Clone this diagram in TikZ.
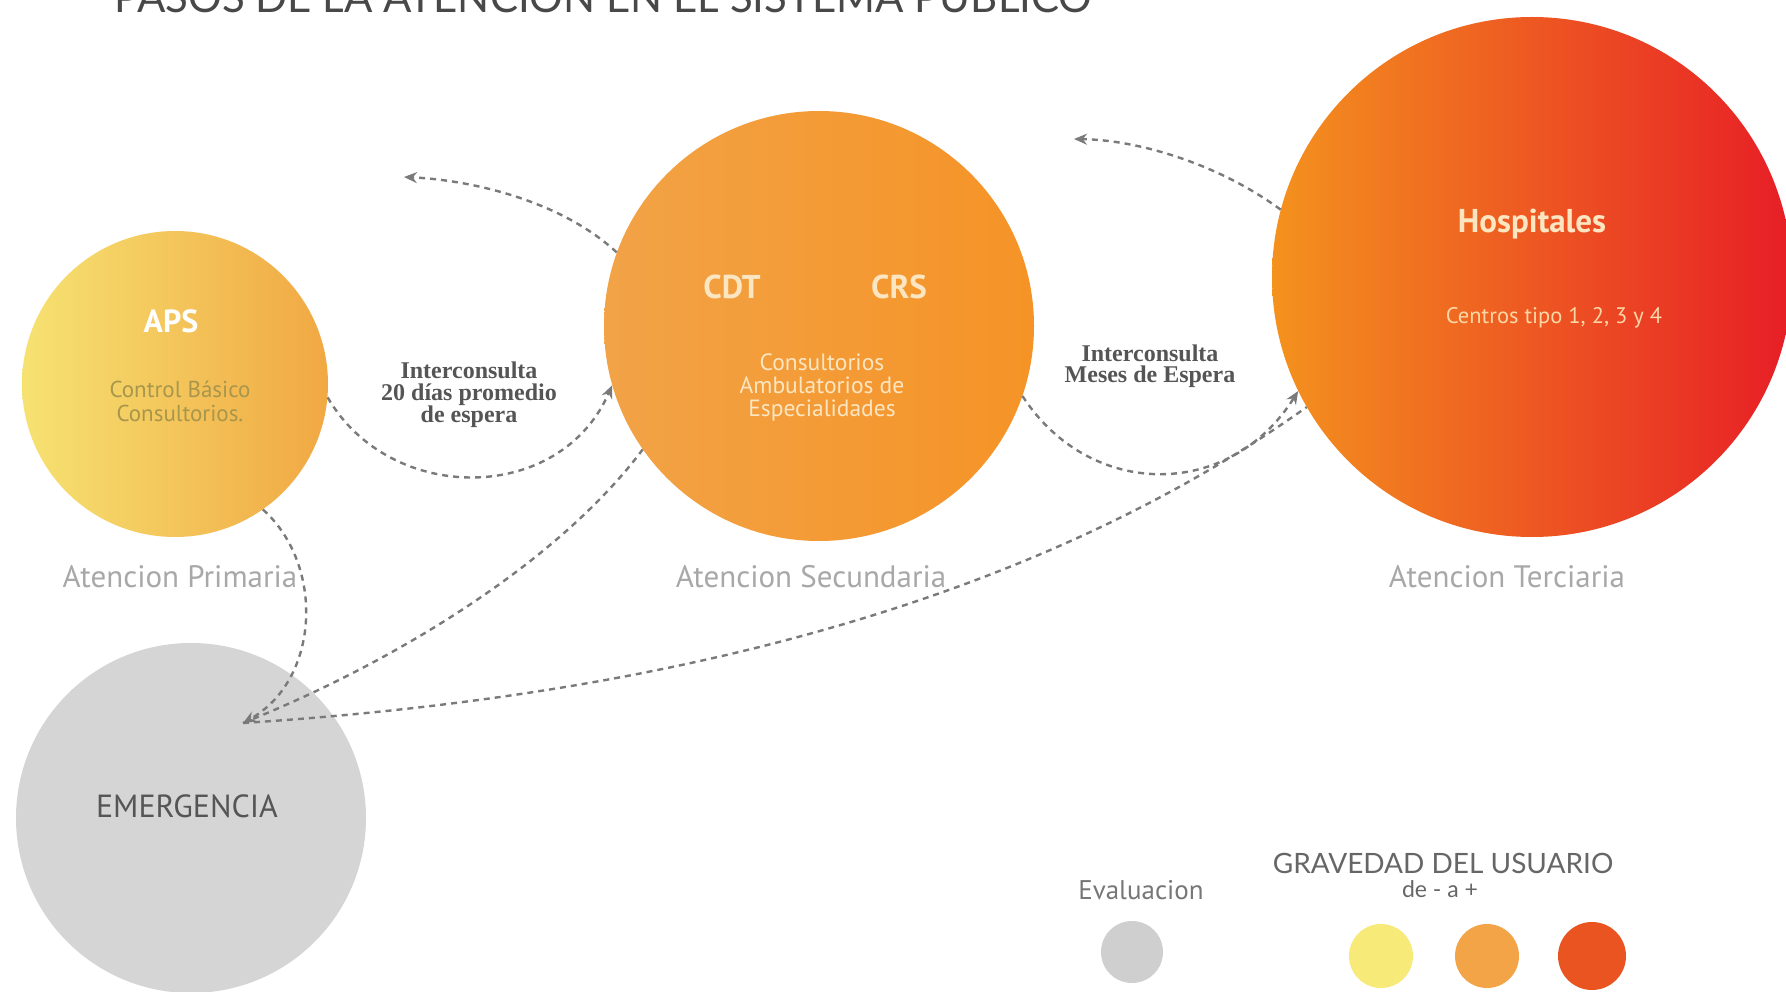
\documentclass[tikz,border=0pt]{standalone}
\usepackage{fontspec}
\setmainfont{PT Sans}
\newfontfamily\capsfont{Lato}
\newfontfamily\notefont{Liberation Serif}
\usetikzlibrary{arrows.meta}

\definecolor{apsL}{HTML}{F6E272}
\definecolor{apsR}{HTML}{F1A843}
\definecolor{secL}{HTML}{F2A347}
\definecolor{secR}{HTML}{F59326}
\definecolor{terL}{HTML}{F4921E}
\definecolor{terM}{HTML}{F05A22}
\definecolor{terR}{HTML}{E71E26}
\definecolor{emgray}{HTML}{D5D5D5}
\definecolor{dashgray}{HTML}{7A7A7A}
\definecolor{labelgray}{HTML}{A8A8A8}
\definecolor{darktext}{HTML}{555555}
\definecolor{olive}{HTML}{A8964C}
\definecolor{cream}{HTML}{FCE6C2}
\definecolor{legYellow}{HTML}{F8EA78}
\definecolor{legOrange}{HTML}{F2A446}
\definecolor{legRed}{HTML}{EA5421}
\definecolor{legGray}{HTML}{CFCFCF}

\tikzset{
  level/.style={circle, inner sep=0pt, draw=none},
  dot/.style={circle, inner sep=0pt, minimum size=64pt, draw=none},
  conn/.style={draw=dashgray, line width=2.4pt, dash pattern=on 6pt off 5pt},
  tipend/.style={-{Stealth[length=13pt,width=11pt]}},
  levellabel/.style={text=labelgray, font=\fontsize{31}{34}\selectfont},
  note/.style={text=darktext, align=center, font=\notefont\bfseries\fontsize{24}{21.5}\selectfont},
}

\begin{document}
\begin{tikzpicture}[x=1pt,y=-1pt]
\useasboundingbox (0,0) rectangle (1786,992);
\fill[white] (0,0) rectangle (1786,992);

% title, partly above the page edge
\node[anchor=base, text=darktext!85!black, font=\capsfont\fontsize{42}{42}\selectfont] (title) at (603,13) {PASOS DE LA ATENCION EN EL SISTEMA PUBLICO};

% care levels
\node[level, left color=apsL, right color=apsR, minimum size=306pt] (aps) at (175,384) {};
\node[level, left color=secL, right color=secR, minimum size=430pt] (sec) at (819,326) {};
\node[level, left color=terL, middle color=terM, right color=terR, minimum size=520pt] (ter) at (1532,277) {};
\node[level, fill=emgray, minimum size=350pt] (emg) at (191,818) {};

% texts inside the circles
\node[text=white, font=\bfseries\fontsize{32}{32}\selectfont] (apsT) at (171,321) {APS};
\node[text=olive, align=center, font=\fontsize{23}{24}\selectfont] (apsS) at (180,401) {Control Básico\\Consultorios.};
\node[text=cream, font=\bfseries\fontsize{33}{33}\selectfont] (cdt) at (732,287) {CDT};
\node[text=cream, font=\bfseries\fontsize{33}{33}\selectfont] (crs) at (899,287) {CRS};
\node[text=cream, align=center, font=\fontsize{23.5}{23}\selectfont] (secS) at (822,387) {Consultorios\\Ambulatorios de\\Especialidades};
\node[text=cream, font=\bfseries\fontsize{33}{33}\selectfont] (hosp) at (1532,224) {Hospitales};
\node[text=cream!85!orange, font=\fontsize{22.5}{22.5}\selectfont] (terS) at (1554,318) {Centros tipo 1, 2, 3 y 4};
\node[text=darktext, font=\fontsize{32}{32}\selectfont] (emgT) at (187,806) {EMERGENCIA};

% level captions
\node[levellabel] (capP) at (180,577) {Atencion Primaria};
\node[levellabel] (capS) at (811,577) {Atencion Secundaria};
\node[levellabel] (capT) at (1507,577) {Atencion Terciaria};

% waiting-time notes
\node[note] (noteA) at (469,395) {Interconsulta\\20 días promedio\\de espera};
\node[note] (noteB) at (1150,366) {Interconsulta\\Meses de Espera};

% connectors
\coordinate (backA) at (404,177);
\coordinate (backB) at (1074,139);
\coordinate (hub) at (243,723);

\draw[conn, tipend] (sec.160) .. controls (560,200) and (470,180) .. (backA);
\draw[conn, tipend] (ter.165) .. controls (1220,165) and (1140,140) .. (backB);
\draw[conn, tipend] (aps.-5) .. controls (390,505) and (560,505) .. (sec.196);
\draw[conn, tipend] (sec.-19) .. controls (1090,500) and (1230,500) .. (ter.206);
\draw[conn, tipend] (aps.-55) .. controls (325,565) and (320,680) .. (hub);
\draw[conn] (hub) .. controls (400,660) and (560,560) .. (sec.215);
\draw[conn] (hub) .. controls (600,700) and (1000,625) .. (ter.210);

% legend
\node[text=darktext!80, font=\fontsize{27}{27}\selectfont] (evalT) at (1141,890) {Evaluacion};
\node[text=darktext!90, font=\capsfont\fontsize{28}{28}\selectfont] (gravT) at (1443,863) {GRAVEDAD DEL USUARIO};
\node[text=darktext!90, font=\capsfont\fontsize{23}{23}\selectfont] (gravS) at (1440,889) {de - a +};
\node[dot, fill=legGray, minimum size=62pt] (dGray) at (1132,952) {};
\node[dot, fill=legYellow] (dYellow) at (1381,956) {};
\node[dot, fill=legOrange] (dOrange) at (1487,956) {};
\node[dot, fill=legRed, minimum size=68pt] (dRed) at (1592,956) {};
\end{tikzpicture}
\end{document}
